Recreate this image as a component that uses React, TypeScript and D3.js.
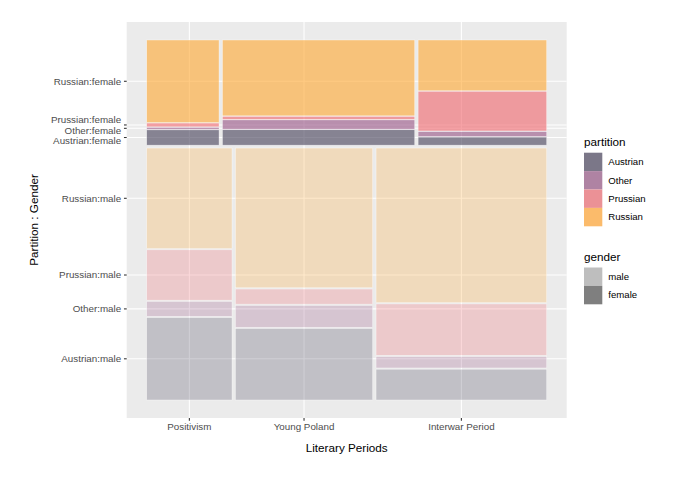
import * as d3 from 'd3';

// mosaic: gender splits the height, period splits each gender row, partition splits each cell
const genders = ['male', 'female'];
const genderShare = [0.7055, 0.2945];

const periods = ['Positivism', 'Young Poland', 'Interwar Period'];
const periodShareMale = [0.217, 0.349, 0.434];
const periodShareFemale = [0.184, 0.489, 0.327];

const partitions = ['Austrian', 'Other', 'Prussian', 'Russian'];
// rows = periods, columns = partitions (bottom to top)
const partitionShareMale = [
  [0.332, 0.06, 0.203, 0.405],
  [0.288, 0.088, 0.061, 0.563],
  [0.124, 0.046, 0.207, 0.623],
];
const partitionShareFemale = [
  [0.148, 0.019, 0.036, 0.797],
  [0.149, 0.09, 0.029, 0.732],
  [0.078, 0.049, 0.383, 0.49],
];

const partitionColors = ['#433E57', '#965284', '#F0646B', '#FFA72F'];
const partitionLegendColors = ['#7B7788', '#AF83A3', '#EB9196', '#FBBB6B'];
const genderAlpha = [0.25, 0.6];
const genderLegendColors = ['#BEBEBE', '#7F7F7F'];

const W = 680;
const H = 477;
const panel = { left: 126.7, right: 566.7, top: 22, bottom: 418 };
const font = '"Liberation Sans", Arial, sans-serif';

function spine(shares: number[], start: number, extent: number, gapFrac: number) {
  const total = d3.sum(shares);
  const usable = extent * (1 - gapFrac * (shares.length - 1));
  let pos = start;
  return shares.map(s => {
    const w = (s / total) * usable;
    const seg = [pos, pos + w];
    pos += w + extent * gapFrac;
    return seg;
  });
}

// push crowded tick labels apart, keeping each cluster centred on its ticks
function dodge(ys: number[], gap: number) {
  const order = ys.map((_, i) => i).sort((a, b) => ys[a] - ys[b]);
  let groups = order.map(i => ({ members: [i], center: ys[i] }));
  let changed = true;
  while (changed) {
    changed = false;
    for (let k = 0; k < groups.length - 1; k++) {
      const a = groups[k];
      const b = groups[k + 1];
      const aEnd = a.center + ((a.members.length - 1) * gap) / 2;
      const bStart = b.center - ((b.members.length - 1) * gap) / 2;
      if (bStart - aEnd < gap) {
        const members = [...a.members, ...b.members];
        groups.splice(k, 2, { members, center: d3.mean(members, i => ys[i])! });
        changed = true;
        break;
      }
    }
  }
  const out = new Array(ys.length);
  groups.forEach(g => {
    g.members.forEach((m, j) => {
      out[m] = g.center + (j - (g.members.length - 1) / 2) * gap;
    });
  });
  return out as number[];
}

export default function App() {
  const x = d3.scaleLinear().domain([-0.05, 1.05]).range([panel.left, panel.right]);
  const y = d3.scaleLinear().domain([-0.05, 1.05]).range([panel.bottom, panel.top]);

  const gRows = spine(genderShare, 0, 1, 0.008);
  const tiles: any[] = [];
  const xTicks: { label: string; pos: number }[] = [];
  const yTicks: { label: string; pos: number }[] = [];

  genders.forEach((g, gi) => {
    const [gy0, gy1] = gRows[gi];
    const pShare = gi === 0 ? periodShareMale : periodShareFemale;
    const kShare = gi === 0 ? partitionShareMale : partitionShareFemale;
    const cols = spine(pShare, 0, 1, 0.0085);
    periods.forEach((p, pi) => {
      const [px0, px1] = cols[pi];
      if (gi === 0) xTicks.push({ label: p, pos: x((px0 + px1) / 2) });
      const cells = spine(kShare[pi], gy0, gy1 - gy0, 0.005);
      partitions.forEach((k, ki) => {
        const [ky0, ky1] = cells[ki];
        tiles.push({ g: gi, p: pi, k: ki, x0: px0, x1: px1, y0: ky0, y1: ky1 });
        if (pi === 0) yTicks.push({ label: `${k}:${g}`, pos: y((ky0 + ky1) / 2) });
      });
    });
  });

  const labelPos = dodge(yTicks.map(t => t.pos), 10.7);

  return (
    <div style={{ position: 'fixed', left: 0, top: 0 }}>
      <svg width={W} height={H} style={{ display: 'block', background: '#fff' }} fontFamily={font}>
        <rect x={panel.left} y={panel.top} width={panel.right - panel.left} height={panel.bottom - panel.top} fill="#EBEBEB" />
        {yTicks.map((t, i) => (
          <line key={'gy' + i} x1={panel.left} x2={panel.right} y1={t.pos} y2={t.pos} stroke="#fff" strokeWidth={1.07} />
        ))}
        {xTicks.map((t, i) => (
          <line key={'gx' + i} x1={t.pos} x2={t.pos} y1={panel.top} y2={panel.bottom} stroke="#fff" strokeWidth={1.07} />
        ))}
        {tiles.map((t, i) => (
          <rect
            key={'t' + i}
            x={x(t.x0)}
            y={y(t.y1)}
            width={x(t.x1) - x(t.x0)}
            height={y(t.y0) - y(t.y1)}
            fill={partitionColors[t.k]}
            fillOpacity={genderAlpha[t.g]}
            stroke="#fff"
            strokeOpacity={0.6}
            strokeWidth={0.6}
          />
        ))}
        {/* y axis */}
        {yTicks.map((t, i) => (
          <g key={'yt' + i}>
            <line x1={panel.left - 2.75} x2={panel.left} y1={t.pos} y2={t.pos} stroke="#333" strokeWidth={1.07} />
            <text x={panel.left - 5.5} y={labelPos[i]} dy="0.35em" textAnchor="end" fontSize={9.8} fill="#4D4D4D">
              {t.label}
            </text>
          </g>
        ))}
        {/* x axis */}
        {xTicks.map((t, i) => (
          <g key={'xt' + i}>
            <line x1={t.pos} x2={t.pos} y1={panel.bottom} y2={panel.bottom + 2.75} stroke="#333" strokeWidth={1.07} />
            <text x={t.pos} y={panel.bottom + 12} textAnchor="middle" fontSize={9.8} fill="#4D4D4D">
              {t.label}
            </text>
          </g>
        ))}
        <text x={(panel.left + panel.right) / 2} y={452} textAnchor="middle" fontSize={11.7} fill="#000">
          Literary Periods
        </text>
        <text
          transform={`translate(${34},${(panel.top + panel.bottom) / 2}) rotate(-90)`}
          textAnchor="middle"
          dy="0.35em"
          fontSize={11.7}
          fill="#000"
        >
          Partition : Gender
        </text>
        {/* legends */}
        <text x={584} y={146} fontSize={11.7} fill="#000">partition</text>
        {partitions.map((k, i) => (
          <g key={'lp' + i}>
            <rect x={584} y={152.7 + i * 18.4} width={18.3} height={18.4} fill={partitionLegendColors[i]} />
            <text x={608.3} y={152.7 + i * 18.4 + 9.2} dy="0.35em" fontSize={9.6} fill="#000">{k}</text>
          </g>
        ))}
        <text x={584} y={261} fontSize={11.7} fill="#000">gender</text>
        {genders.map((g, i) => (
          <g key={'lg' + i}>
            <rect x={584} y={267.5 + i * 18.4} width={18.3} height={18.4} fill={genderLegendColors[i]} />
            <text x={608.3} y={267.5 + i * 18.4 + 9.2} dy="0.35em" fontSize={9.6} fill="#000">{g}</text>
          </g>
        ))}
      </svg>
    </div>
  );
}
